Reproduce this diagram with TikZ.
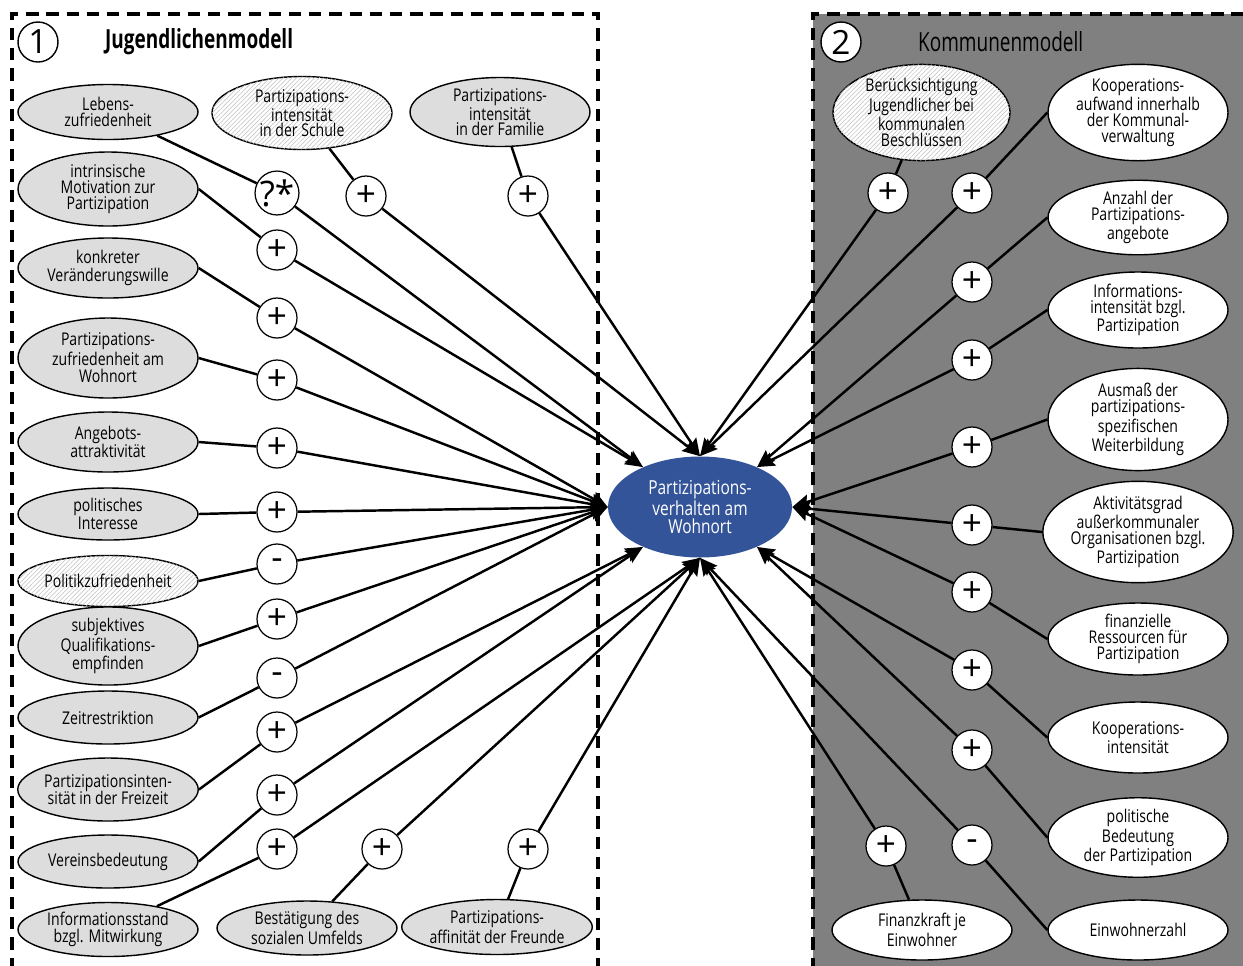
\documentclass[tikz,border=0pt]{standalone}
\usepackage{fontspec}
\setmainfont{Open Sans}[FakeStretch=0.8]
\newfontfamily\signfont{Open Sans}
\newfontfamily\titelfont{Open Sans}[FakeStretch=0.72]
\usetikzlibrary{shapes.geometric,arrows.meta,patterns.meta}
\definecolor{zielblau}{RGB}{51,84,152}
\definecolor{hellgrau}{RGB}{221,221,221}
\definecolor{boxgrau}{RGB}{128,128,128}

\begin{document}
\begin{tikzpicture}[font=\fontsize{10}{9}\selectfont,
	faktor/.style={ellipse,draw,line width=0.8pt,fill=hellgrau,minimum width=3.6cm,inner sep=0pt,align=center},
	gestreift/.style={fill=white,postaction={pattern={Lines[angle=45,distance=1.8pt,line width=0.3pt]},pattern color=gray!50}},
	kommune/.style={faktor,fill=white},
	vorz/.style={circle,draw,fill=white,line width=0.7pt,minimum size=0.8cm,inner sep=0pt,font=\signfont\fontsize{20}{20}\selectfont},
	nummer/.style={circle,draw,fill=white,line width=0.8pt,minimum size=0.8cm,inner sep=0pt,font=\signfont\fontsize{19}{19}\selectfont},
	kante/.style={line width=1.4pt},
	pfeil/.style={line width=1.4pt,-{Stealth[length=10pt,width=8pt,inset=1.5pt]}},
	rahmen/.style={line width=2.2pt,dash pattern=on 7pt off 4.5pt}]
			\useasboundingbox (0,0) rectangle (24.86,-19.3);
			
			\draw[rahmen] (0.24,-19.8)-- (0.24,-0.28)-- (11.96,-0.28)-- (11.96,-19.8);
			\fill[boxgrau] (16.26,-0.28) rectangle (25.3,-19.8);
			\draw[rahmen] (16.26,-19.8)-- (16.26,-0.28)-- (25.3,-0.28);
			
			\node[nummer] (n1) at (0.76,-0.84) {1};
			\node[anchor=west,font=\titelfont\fontsize{15}{15}\selectfont\bfseries] (t1) at (1.98,-0.84) {Jugendlichenmodell};
			\node[nummer] (n2) at (16.82,-0.84) {2};
			\node[anchor=west,font=\titelfont\fontsize{15}{15}\selectfont] (t2) at (18.24,-0.84) {Kommunenmodell};
			
			\node[ellipse,fill=zielblau,minimum width=3.68cm,minimum height=2.02cm,inner sep=0pt,align=center,text=white,font=\fontsize{11}{10.5}\selectfont] (Z) at (14.0,-10.14) {Partizipations-\\verhalten am\\Wohnort};
			
			\node[faktor,minimum height=1.1cm] (leben) at (2.16,-2.24) {Lebens-\\zufriedenheit};
			\node[faktor,gestreift,minimum height=1.46cm,font=\fontsize{10}{8.5}\selectfont] (schule) at (6.04,-2.26) {Partizipations-\\intensität\\in der Schule};
			\node[faktor,minimum height=1.38cm,font=\fontsize{10}{8.5}\selectfont] (familie) at (10.0,-2.24) {Partizipations-\\intensität\\in der Familie};
			\node[faktor,minimum height=1.48cm] (motiv) at (2.16,-3.78) {intrinsische\\Motivation zur\\Partizipation};
			\node[faktor,minimum height=1.2cm,font=\fontsize{10}{10}\selectfont] (wille) at (2.16,-5.36) {konkreter\\Veränderungswille};
			\node[faktor,minimum height=1.6cm,font=\fontsize{10}{10}\selectfont] (wohnzuf) at (2.16,-7.16) {Partizipations-\\zufriedenheit am\\Wohnort};
			\node[faktor,minimum height=1.2cm,font=\fontsize{10}{10}\selectfont] (angebot) at (2.16,-8.84) {Angebots-\\attraktivität};
			\node[faktor,minimum height=1.04cm,font=\fontsize{10}{10}\selectfont] (interesse) at (2.16,-10.28) {politisches\\Interesse};
			\node[faktor,gestreift,minimum height=1.02cm] (politzuf) at (2.16,-11.62) {Politikzufriedenheit};
			\node[faktor,minimum height=1.2cm] (qualif) at (2.16,-12.92) {subjektives\\Qualifikations-\\empfinden};
			\node[faktor,minimum height=1.06cm] (zeit) at (2.16,-14.35) {Zeitrestriktion};
			\node[faktor,minimum height=1.26cm,font=\fontsize{10}{10}\selectfont] (freizeit) at (2.16,-15.79) {Partizipationsinten-\\sität in der Freizeit};
			\node[faktor,minimum height=1.06cm] (verein) at (2.16,-17.23) {Vereinsbedeutung};
			\node[faktor,minimum height=1.08cm,font=\fontsize{10}{10}\selectfont] (info) at (2.16,-18.59) {Informationsstand\\bzgl. Mitwirkung};
			\node[faktor,minimum height=1.08cm,font=\fontsize{10}{10}\selectfont] (umfeld) at (6.14,-18.56) {Bestätigung des\\sozialen Umfelds};
			\node[faktor,minimum height=1.1cm,font=\fontsize{10}{10}\selectfont] (freunde) at (9.94,-18.54) {Partizipations-\\affinität der Freunde};
			
			\node[vorz] (vleben) at (5.54,-3.86) {?*};
			\node[vorz] (vschule) at (7.32,-3.92) {+};
			\node[vorz] (vfamilie) at (10.56,-3.92) {+};
			\node[vorz] (vmotiv) at (5.54,-5.0) {+};
			\node[vorz] (vwille) at (5.54,-6.36) {+};
			\node[vorz] (vwohnzuf) at (5.54,-7.6) {+};
			\node[vorz] (vangebot) at (5.54,-8.96) {+};
			\node[vorz] (vinteresse) at (5.54,-10.24) {+};
			\node[vorz] (vpolitzuf) at (5.54,-11.28) {-};
			\node[vorz] (vqualif) at (5.54,-12.38) {+};
			\node[vorz] (vzeit) at (5.54,-13.56) {-};
			\node[vorz] (vfreizeit) at (5.54,-14.64) {+};
			\node[vorz] (vverein) at (5.54,-15.9) {+};
			\node[vorz] (vinfo) at (5.54,-16.98) {+};
			\node[vorz] (vumfeld) at (7.64,-16.98) {+};
			\node[vorz] (vfreunde) at (10.56,-16.98) {+};
			
			\node[kommune,gestreift,minimum width=3.54cm,minimum height=1.82cm] (beruecks) at (18.43,-2.25) {Berücksichtigung\\Jugendlicher bei\\kommunalen\\Beschlüssen};
			\node[kommune,minimum height=1.7cm] (aufwand) at (22.76,-2.25) {Kooperations-\\aufwand innerhalb\\der Kommunal-\\verwaltung};
			\node[kommune,minimum height=1.3cm] (anzahl) at (22.76,-4.35) {Anzahl der\\Partizipations-\\angebote};
			\node[kommune,minimum height=1.52cm] (infoint) at (22.76,-6.2) {Informations-\\intensität bzgl.\\Partizipation};
			\node[kommune,minimum height=1.7cm] (ausmass) at (22.76,-8.39) {Ausmaß der\\partizipations-\\spezifischen\\Weiterbildung};
			\node[kommune,minimum height=1.78cm] (aktiv) at (22.76,-10.64) {Aktivitätsgrad\\außerkommunaler\\Organisationen bzgl.\\Partizipation};
			\node[kommune,minimum height=1.44cm] (finanz) at (22.76,-12.78) {finanzielle\\Ressourcen für\\Partizipation};
			\node[kommune,minimum height=1.42cm] (koopint) at (22.76,-14.75) {Kooperations-\\intensität};
			\node[kommune,minimum height=1.42cm] (bedeut) at (22.76,-16.75) {politische\\Bedeutung\\der Partizipation};
			\node[kommune,minimum height=1.2cm] (einw) at (22.76,-18.6) {Einwohnerzahl};
			\node[kommune,minimum height=1.2cm] (finkraft) at (18.44,-18.6) {Finanzkraft je\\Einwohner};
			
			\node[vorz] (vberuecks) at (17.76,-3.86) {+};
			\node[vorz] (vaufwand) at (19.44,-3.86) {+};
			\node[vorz] (vanzahl) at (19.44,-5.64) {+};
			\node[vorz] (vinfoint) at (19.44,-7.2) {+};
			\node[vorz] (vausmass) at (19.44,-8.94) {+};
			\node[vorz] (vaktiv) at (19.44,-10.5) {+};
			\node[vorz] (vfinanz) at (19.44,-11.84) {+};
			\node[vorz] (vkoopint) at (19.44,-13.4) {+};
			\node[vorz] (vbedeut) at (19.44,-15.0) {+};
			\node[vorz] (vfinkraft) at (17.72,-16.92) {+};
			\node[vorz] (veinw) at (19.44,-16.9) {-};
			
			\draw[kante] (leben)-- (vleben);
			\draw[kante] (schule)-- (vschule);
			\draw[kante] (familie)-- (vfamilie);
			\draw[kante] (motiv.east)-- (vmotiv);
			\draw[kante] (wille.east)-- (vwille);
			\draw[kante] (wohnzuf.east)-- (vwohnzuf);
			\draw[kante] (angebot.east)-- (vangebot);
			\draw[kante] (interesse.east)-- (vinteresse);
			\draw[kante] (politzuf.east)-- (vpolitzuf);
			\draw[kante] (qualif.east)-- (vqualif);
			\draw[kante] (zeit.east)-- (vzeit);
			\draw[kante] (freizeit.east)-- (vfreizeit);
			\draw[kante] (verein.east)-- (vverein);
			\draw[kante] (info)-- (vinfo);
			\draw[kante] (umfeld)-- (vumfeld);
			\draw[kante] (freunde)-- (vfreunde);
			
			\draw[pfeil] (vleben)-- (Z.145);
			\draw[pfeil] (vschule)-- (Z.north);
			\draw[pfeil] (vfamilie)-- (Z.north);
			\draw[pfeil] (vmotiv)-- (Z.145);
			\draw[pfeil] (vwille)-- (Z.west);
			\draw[pfeil] (vwohnzuf)-- (Z.west);
			\draw[pfeil] (vangebot)-- (Z.west);
			\draw[pfeil] (vinteresse)-- (Z.west);
			\draw[pfeil] (vpolitzuf)-- (Z.west);
			\draw[pfeil] (vqualif)-- (Z.west);
			\draw[pfeil] (vzeit)-- (Z.west);
			\draw[pfeil] (vfreizeit)-- (Z.215);
			\draw[pfeil] (vverein)-- (Z.215);
			\draw[pfeil] (vinfo)-- (Z.south);
			\draw[pfeil] (vumfeld)-- (Z.south);
			\draw[pfeil] (vfreunde)-- (Z.south);
			
			\draw[kante] (beruecks)-- (vberuecks);
			\draw[kante] (aufwand.west)-- (vaufwand);
			\draw[kante] (anzahl.west)-- (vanzahl);
			\draw[kante] (infoint.west)-- (vinfoint);
			\draw[kante] (ausmass.west)-- (vausmass);
			\draw[kante] (aktiv.west)-- (vaktiv);
			\draw[kante] (finanz.west)-- (vfinanz);
			\draw[kante] (koopint.west)-- (vkoopint);
			\draw[kante] (bedeut.west)-- (vbedeut);
			\draw[kante] (finkraft)-- (vfinkraft);
			\draw[kante] (einw.west)-- (veinw);
			
			\draw[pfeil] (vberuecks)-- (Z.north);
			\draw[pfeil] (vaufwand)-- (Z.north);
			\draw[pfeil] (vanzahl)-- (Z.35);
			\draw[pfeil] (vinfoint)-- (Z.35);
			\draw[pfeil] (vausmass)-- (Z.east);
			\draw[pfeil] (vaktiv)-- (Z.east);
			\draw[pfeil] (vfinanz)-- (Z.east);
			\draw[pfeil] (vkoopint)-- (Z.325);
			\draw[pfeil] (vbedeut)-- (Z.325);
			\draw[pfeil] (vfinkraft)-- (Z.south);
			\draw[pfeil] (veinw)-- (Z.south);
\end{tikzpicture}
\end{document}
